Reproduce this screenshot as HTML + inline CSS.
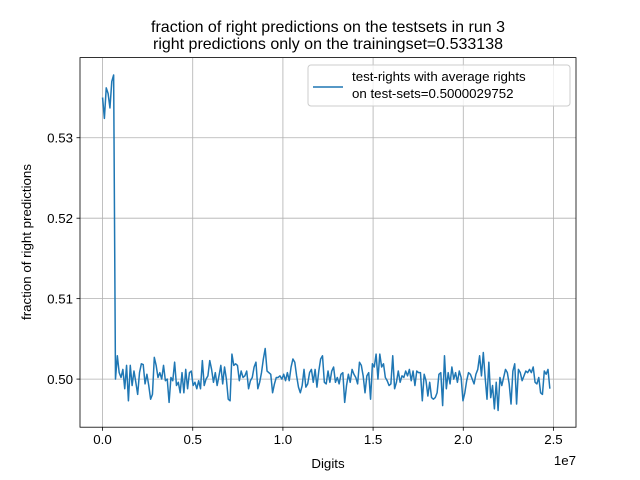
<!DOCTYPE html>
<html><head><meta charset="utf-8"><style>
body{margin:0;background:#fff}
svg{display:block;font-family:"Liberation Sans","DejaVu Sans",sans-serif}
</style></head><body>
<svg id="chart" width="640" height="480" viewBox="0 0 640 480" xmlns="http://www.w3.org/2000/svg">
<rect width="640" height="480" fill="#fff"/>
<text x="328" y="32" font-size="16" text-anchor="middle">fraction of right predictions on the testsets in run 3</text>
<text x="328" y="49" font-size="16" text-anchor="middle">right predictions only on the trainingset=0.533138</text>
<g id="grid"></g>
<g id="ticks"></g>
<path id="series" fill="none" stroke="#1f77b4" stroke-width="1.5" stroke-linejoin="round"/>
<rect x="80" y="57.6" width="496" height="369.6" fill="none" stroke="#000" stroke-width="0.8"/>
<text x="328" y="468" font-size="13.3" text-anchor="middle">Digits</text>
<text x="576" y="465" font-size="13.3" text-anchor="end">1e7</text>
<text transform="translate(31,242) rotate(-90)" font-size="13.3" text-anchor="middle">fraction of right predictions</text>
<g>
<rect x="308" y="65" width="262" height="41" rx="3" fill="#fff" fill-opacity="0.8" stroke="#ccc" stroke-width="1"/>
<line x1="313" y1="87" x2="343" y2="87" stroke="#1f77b4" stroke-width="1.5"/>
<text x="352" y="81" font-size="13.3">test-rights with average rights</text>
<text x="352" y="98" font-size="13.3">on test-sets=0.5000029752</text>
</g>
</svg>
<script>
const xTicks=[0,0.5,1.0,1.5,2.0,2.5];
const xTickLabels=["0.0","0.5","1.0","1.5","2.0","2.5"];
const yTicks=[0.50,0.51,0.52,0.53];
const yTickLabels=["0.50","0.51","0.52","0.53"];
const headValues=[0.5350,0.5324,0.5362,0.5355,0.5337,0.5370,0.5378];
const tailDeviations=[0,2.9,0.8,0.2,1.2,-1.2,1.7,-2.7,1.7,-0.8,1.0,-0.4,-1.9,0.8,1.9,1.8,-0.6,0.6,-0.8,-2.5,-1.9,2.7,1.7,0.2,0.8,0,1.7,-0.2,0,-2.9,0.2,-0.2,2.1,-0.8,-0.4,-1.7,0.8,-1.7,1.2,-1.2,0.8,1.0,-0.8,-0.4,-1.2,-0.2,-1.2,2.3,-0.8,0,0.4,2.3,1.2,-0.4,0.8,-0.8,0.4,1.7,-0.6,1.5,0,-2.5,-2.7,3.1,1.7,1.9,1.7,-0.2,1.0,0.2,0.4,1.0,-1.2,-0.2,0.2,1.5,2.1,-1.2,-0.4,0.8,2.5,3.8,1.0,0.8,0.6,-1.7,-0.6,0.2,
0.2,0.4,0,0.6,-0.2,0.8,-0.2,1.5,2.5,2.1,0.4,-1.0,-1.7,-0.8,1.2,-1.0,-0.6,0.8,1.2,-0.4,1.2,-1.0,1.0,2.5,2.9,-0.4,-0.6,1.0,-0.4,1.0,
1.5,-0.4,0.2,-0.6,0.6,0.8,-2.9,-0.8,0.6,-0.4,1.2,0.6,0.2,-0.6,2.1,1.7,0.4,-1.7,0.4,0.8,-2.5,1.9,1.5,3.1,0,3.1,1.5,1.9,0.2,-0.2,-0.8,-0.6,2.9,-1.2,-0.4,1.0,-0.4,0.4,0.2,1.0,0.4,1.2,-0.2,1.0,-0.8,1.0,0.8,0.8,-2.7,0.6,-0.2,-2.1,-0.4,-2.3,-2.5,-2.3,-1.7,0.6,0.8,-3.3,2.9,-1.2,0.8,-0.6,1.5,0,0.8,-0.4,1.0,0.2,-2.7,-1.7,-0.2,0.8,0.6,0,-0.6,0.6,1.2,2.9,0.4,3.3,0.2,-2.5,2.1,-2.3,-0.8,-3.7,-0.4,-3.9,0.2,-0.8,0.2,1.2,0.8,-0.6,-3.1,1.0,1.9,-3.1,1.2,0.8,-0.2,0.4,1.0,0.8,1.2,0.8,1.5,-0.4,-0.6,0.2,-1.7,-1.9,1.0,0.6,1.2,-1.2];
const values=headValues.concat(tailDeviations.map(d=>0.5+d*0.001));
const xMax=2.48; // in 1e7 units, last sample position
const X0=80,X1=576,Y0=427.2,Y1=57.6;
const xMin=-0.125,xLim=2.625,yMin=0.49402,yMax=0.53996;
const sx=v=>X0+(v-xMin)/(xLim-xMin)*(X1-X0);
const sy=v=>Y0-(v-yMin)/(yMax-yMin)*(Y0-Y1);
const NS="http://www.w3.org/2000/svg";
const grid=document.getElementById('grid'),ticks=document.getElementById('ticks');
function mk(tag,attrs,parent){const e=document.createElementNS(NS,tag);for(const k in attrs)e.setAttribute(k,attrs[k]);parent.appendChild(e);return e;}
xTicks.forEach((t,i)=>{const x=sx(t);
 const g=mk('line',{x1:x,x2:x,y1:Y1,y2:Y0,stroke:'#b0b0b0','stroke-width':0.8},grid);
 
 
 const tk=mk('line',{x1:x,x2:x,y1:Y0,y2:Y0+3.5,stroke:'#000','stroke-width':0.8},ticks);
 
 
 const tx=mk('text',{x:x,y:Y0+17,'font-size':13.3,'text-anchor':'middle'},ticks);tx.textContent=xTickLabels[i];
 
 
});
yTicks.forEach((t,i)=>{const y=sy(t);
 const g=mk('line',{x1:X0,x2:X1,y1:y,y2:y,stroke:'#b0b0b0','stroke-width':0.8},grid);
 
 
 const tk=mk('line',{x1:X0-3.5,x2:X0,y1:y,y2:y,stroke:'#000','stroke-width':0.8},ticks);
 
 
 const tx=mk('text',{x:X0-7,y:y+5,'font-size':13.3,'text-anchor':'end'},ticks);tx.textContent=yTickLabels[i];
 
 
});
const n=values.length;
let d='';values.forEach((v,i)=>{const x=sx(i*xMax/(n-1));d+=(i?'L':'M')+x.toFixed(2)+','+sy(v).toFixed(2);});
document.getElementById('series').setAttribute('d',d);
</script>
</body></html>
